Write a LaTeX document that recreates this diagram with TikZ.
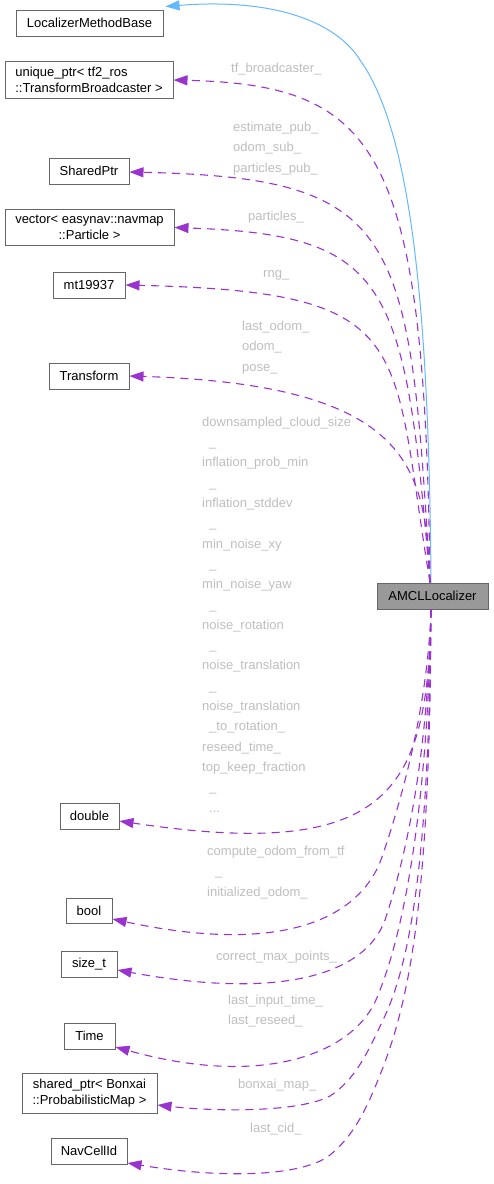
\documentclass[tikz,border=0pt]{standalone}
\usepackage{fontspec}
\setmainfont{Liberation Sans}
\usepackage{tikz}
\usetikzlibrary{arrows.meta}
\definecolor{edgepurple}{RGB}{154,50,205}
\definecolor{inhblue}{RGB}{99,184,255}
\definecolor{boxgray}{RGB}{102,102,102}
\definecolor{rootfill}{RGB}{153,153,153}
\definecolor{lblgray}{RGB}{190,190,190}

\begin{document}
\begin{tikzpicture}[x=1pt,y=-1pt,
    every node/.style={font=\fontsize{13}{16}\selectfont},
    cls/.style={draw=boxgray,line width=1pt,fill=white,minimum height=26pt,
      inner xsep=4pt,inner ysep=6pt},
    root/.style={cls,fill=rootfill},
    member/.style={edgepurple,line width=1.1pt,dash pattern=on 8pt off 6pt,
      -{Triangle[length=14pt,width=10pt]}},
    inherit/.style={inhblue,line width=1pt,-{Triangle[length=14pt,width=10pt]}},
    lbl/.style={text=lblgray,inner sep=0pt,font=\fontsize{13}{20.3}\selectfont,align=left}]
  \useasboundingbox (0,0) rectangle (493,1184);

  \node[cls,minimum width=147pt] (lmb) at (89.5,23) {LocalizerMethodBase};
  \node[cls,minimum width=168pt,align=left] (tfb) at (89,80) {unique\_ptr< tf2\_ros\\::TransformBroadcaster >};
  \node[cls,minimum width=80pt] (sp) at (89,171) {SharedPtr};
  \node[cls,minimum width=169pt,align=center] (vec) at (89.5,227.5) {vector< easynav::navmap\\::Particle >};
  \node[cls,minimum width=72pt] (mt) at (89,285) {mt19937};
  \node[cls,minimum width=80pt] (tr) at (89,376) {Transform};
  \node[root,minimum width=111pt] (amcl) at (432.5,596) {AMCLLocalizer};
  \node[cls,minimum width=59pt] (dbl) at (89.5,816) {double};
  \node[cls,minimum width=46pt,minimum height=25pt] (bool) at (89,911) {bool};
  \node[cls,minimum width=56pt] (sz) at (89,964) {size\_t};
  \node[cls,minimum width=51pt] (time) at (89.5,1036) {Time};
  \node[cls,minimum width=135pt,align=center] (bonxai) at (89.5,1093.5) {shared\_ptr< Bonxai\\::ProbabilisticMap >};
  \node[cls,minimum width=76pt] (nav) at (89,1151) {NavCellId};

  \draw[inherit] ([xshift=-1.5pt]amcl.north) .. controls (429,300) and (410,130) .. (360,60)
    .. controls (335,20) and (270,-2) .. ([xshift=2pt,yshift=3pt]lmb.north east);

  \draw[member] ([xshift=-2.5pt]amcl.north) .. controls (425,150) and (380,85) .. (tfb.east);
  \draw[member] ([xshift=-2.5pt]amcl.north) .. controls (410,230) and (400,178) .. ([yshift=-1pt]sp.east);
  \draw[member] ([xshift=-2.5pt]amcl.north) .. controls (405,280) and (390,235) .. (vec.east);
  \draw[member] ([xshift=-2.5pt]amcl.north) .. controls (390,340) and (420,292) .. (mt.east);
  \draw[member] ([xshift=-2.5pt]amcl.north) .. controls (425,470) and (415,385) .. (tr.east);

  \draw[member] ([xshift=-1.5pt]amcl.south) .. controls (428,790) and (392,862) .. ([yshift=-5pt]dbl.east);
  \draw[member] ([xshift=-1.5pt]amcl.south) .. controls (428,700) and (405,790) .. (382,857)
    .. controls (360,920) and (280,955) .. ([yshift=-8pt]bool.east);
  \draw[member] ([xshift=-1.5pt]amcl.south) .. controls (428,760) and (405,860) .. (385,920)
    .. controls (365,975) and (280,1000) .. ([yshift=-6pt]sz.east);
  \draw[member] ([xshift=-1.5pt]amcl.south) .. controls (428,800) and (405,930) .. (378,995)
    .. controls (358,1050) and (270,1090) .. ([yshift=-11pt]time.east);
  \draw[member] ([xshift=-1.5pt]amcl.south) .. controls (429,850) and (412,960) .. (383,1020)
    .. controls (368,1052) and (355,1080) .. (330,1096)
    .. controls (300,1112) and (220,1112) .. ([yshift=-11.5pt]bonxai.east);
  \draw[member] ([xshift=-1.5pt]amcl.south) .. controls (430,900) and (410,1000) .. (380,1075)
    .. controls (368,1105) and (355,1135) .. (330,1155)
    .. controls (305,1175) and (230,1180) .. ([yshift=-12pt]nav.east);

  \node[lbl,anchor=base west] (l1) at (231,72) {tf\_broadcaster\_};
  \node[lbl,anchor=north west] (l2) at (233,122) {estimate\_pub\_\\odom\_sub\_\\particles\_pub\_};
  \node[lbl,anchor=base west] (l3) at (248,220.5) {particles\_};
  \node[lbl,anchor=base west] (l4) at (263,277) {rng\_};
  \node[lbl,anchor=north west] (l5) at (242,321) {last\_odom\_\\odom\_\\pose\_};
  \node[lbl,anchor=north west] (l6) at (202,416.7) {downsampled\_cloud\_size\\\hspace*{7pt}\_\\
    inflation\_prob\_min\\\hspace*{7pt}\_\\inflation\_stddev\\\hspace*{7pt}\_\\
    min\_noise\_xy\\\hspace*{7pt}\_\\min\_noise\_yaw\\\hspace*{7pt}\_\\
    noise\_rotation\\\hspace*{7pt}\_\\noise\_translation\\\hspace*{7pt}\_\\
    noise\_translation\\\hspace*{7pt}\_to\_rotation\_\\reseed\_time\_\\
    top\_keep\_fraction\\\hspace*{7pt}\_\\\hspace*{7pt}...};
  \node[lbl,anchor=north west] (l7) at (207,846) {compute\_odom\_from\_tf\\\hspace*{8pt}\_\\initialized\_odom\_};
  \node[lbl,anchor=base west] (l8) at (216,960.5) {correct\_max\_points\_};
  \node[lbl,anchor=north west] (l9) at (228,995) {last\_input\_time\_\\last\_reseed\_};
  \node[lbl,anchor=base west] (l10) at (238,1088.5) {bonxai\_map\_};
  \node[lbl,anchor=base west] (l11) at (250,1132.5) {last\_cid\_};
\end{tikzpicture}
\end{document}
